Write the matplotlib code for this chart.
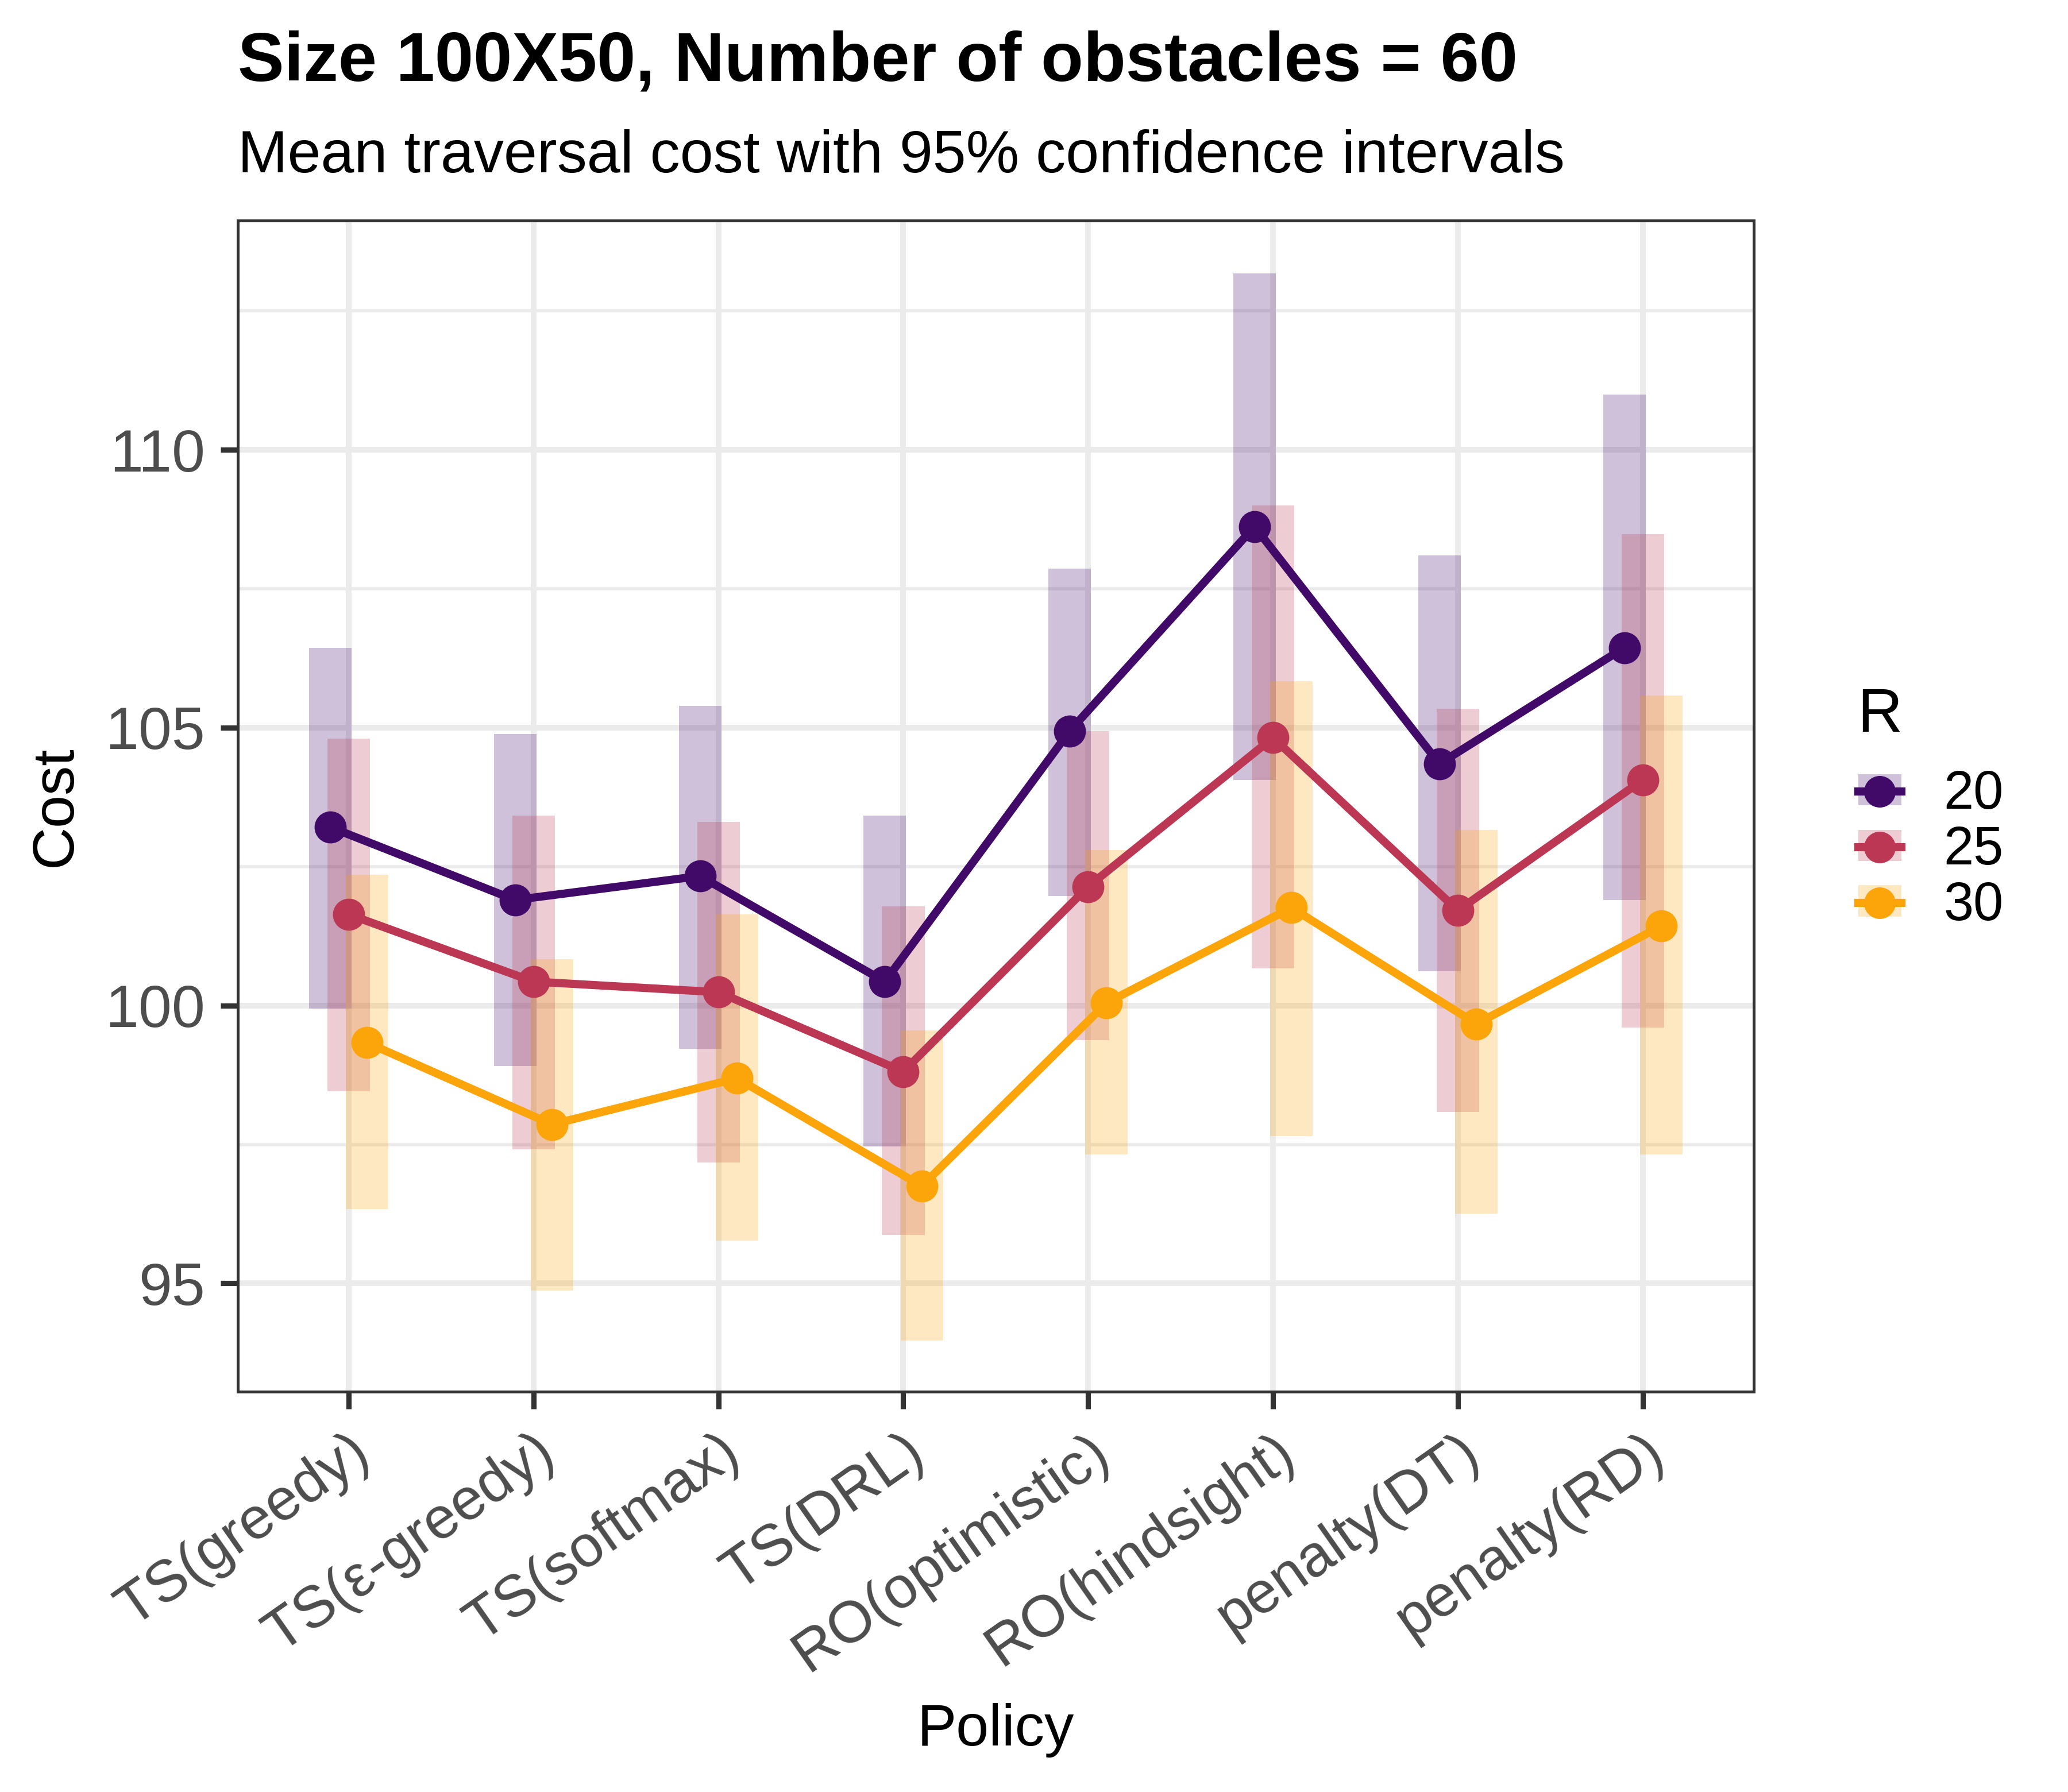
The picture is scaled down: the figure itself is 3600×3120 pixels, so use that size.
"""
Mean traversal cost per policy, one line per R, with 95% CI bars.
Output: out.png
"""

import matplotlib.pyplot as plt
import numpy as np
from matplotlib.legend_handler import HandlerTuple
from matplotlib.lines import Line2D
from matplotlib.patches import Patch

plt.rcParams["font.family"] = ["Liberation Sans", "DejaVu Sans"]

POLICIES = [
    "TS(greedy)", "TS(ε-greedy)", "TS(softmax)", "TS(DRL)",
    "RO(optimistic)", "RO(hindsight)", "penalty(DT)", "penalty(RD)",
]
R_LEVELS = ["20", "25", "30"]
R_COLORS = ["#420A68", "#BB3754", "#FCA50A"]

# mean / lower / upper per R, in policy order
MEAN_20 = [103.21, 101.90, 102.33, 100.43, 104.94, 108.62, 104.35, 106.44]
LOW_20 = [99.95, 98.91, 99.22, 97.46, 101.97, 104.06, 100.62, 101.90]
HIGH_20 = [106.44, 104.89, 105.39, 103.42, 107.86, 113.18, 108.10, 111.00]

MEAN_25 = [101.64, 100.43, 100.24, 98.81, 102.14, 104.82, 101.71, 104.06]
LOW_25 = [98.46, 97.41, 97.17, 95.87, 99.38, 100.67, 98.08, 99.60]
HIGH_25 = [104.80, 103.42, 103.30, 101.78, 104.94, 109.00, 105.34, 108.48]

MEAN_30 = [99.33, 97.86, 98.69, 96.75, 100.05, 101.76, 99.67, 101.43]
LOW_30 = [96.34, 94.87, 95.77, 93.97, 97.32, 97.65, 96.25, 97.32]
HIGH_30 = [102.35, 100.83, 101.64, 99.55, 102.80, 105.84, 103.16, 105.58]

SERIES = [
    (MEAN_20, LOW_20, HIGH_20),
    (MEAN_25, LOW_25, HIGH_25),
    (MEAN_30, LOW_30, HIGH_30),
]

DODGE = 0.1
BAR_WIDTH = 0.23
GRID_COLOR = "#EBEBEB"
DARK = "#333333"
TICK_TEXT = "#4D4D4D"

AX_LEFT, AX_RIGHT = 0.115, 0.848
AX_BOTTOM, AX_TOP = 0.2234, 0.877


def main() -> None:
    fig = plt.figure(figsize=(12, 10.4), dpi=300)
    ax = fig.add_axes([AX_LEFT, AX_BOTTOM, AX_RIGHT - AX_LEFT, AX_TOP - AX_BOTTOM])

    x = np.arange(len(POLICIES))
    offsets = [-DODGE, 0.0, DODGE]

    for (mean, low, high), color, off in zip(SERIES, R_COLORS, offsets):
        low = np.array(low)
        high = np.array(high)
        ax.bar(x + off, high - low, bottom=low, width=BAR_WIDTH,
               color=color, alpha=0.25, linewidth=0, zorder=2)

    for (mean, low, high), color, off in zip(SERIES, R_COLORS, offsets):
        ax.plot(x + off, mean, color=color, linewidth=3.4, zorder=3)
        ax.plot(x + off, mean, "o", color=color, markersize=13.4,
                markeredgewidth=0, zorder=4)

    ax.set_xlim(-0.6, len(POLICIES) - 1 + 0.6)
    ax.set_ylim(93.05, 114.13)
    ax.set_xticks(x)
    ax.set_xticklabels(POLICIES, rotation=35, ha="right", va="top",
                       rotation_mode="anchor", fontsize=24.5, color=TICK_TEXT)
    ax.set_yticks([95, 100, 105, 110])
    ax.set_yticklabels(["95", "100", "105", "110"], fontsize=25, color=TICK_TEXT)
    ax.set_yticks([97.5, 102.5, 107.5, 112.5], minor=True)

    ax.grid(True, which="major", color=GRID_COLOR, linewidth=2.4, zorder=0)
    ax.grid(True, which="minor", axis="y", color=GRID_COLOR, linewidth=1.35, zorder=0)
    ax.set_axisbelow(True)
    ax.tick_params(axis="both", which="major", length=7.2, width=2.2,
                   color=DARK, pad=6.5)
    ax.tick_params(axis="y", which="minor", length=0)
    for spine in ax.spines.values():
        spine.set_color(DARK)
        spine.set_linewidth(1.2)

    ax.set_xlabel("Policy", fontsize=24.6, va="center")
    ax.xaxis.set_label_coords(0.5, -0.289)
    ax.set_ylabel("Cost", fontsize=24.6, va="center")
    ax.yaxis.set_label_coords(-0.120, 0.5)

    fig.text(AX_LEFT, 0.955, "Size 100X50, Number of obstacles = 60",
             fontsize=29, fontweight="bold", ha="left", va="baseline")
    fig.text(AX_LEFT, 0.904, "Mean traversal cost with 95% confidence intervals",
             fontsize=25, ha="left", va="baseline")

    # legend: title drawn apart so the gap above the keys matches
    fig.text(0.898, 0.5917, "R", fontsize=26, ha="left", va="baseline")
    handles = []
    for color in R_COLORS:
        patch = Patch(facecolor=color, alpha=0.25, edgecolor="none")
        line = Line2D([], [], color=color, linewidth=3.4, marker="o",
                      markersize=13.2, markeredgewidth=0)
        handles.append((patch, line))
    fig.legend(handles, R_LEVELS, loc="upper left",
               bbox_to_anchor=(0.8986, 0.5708), frameon=False, fontsize=22.5,
               handler_map={tuple: HandlerTuple(ndivide=1, pad=0)},
               handlelength=0.8, handleheight=0.52, labelspacing=0.085,
               handletextpad=0.78, borderpad=0, borderaxespad=0)

    fig.savefig("out.png", dpi=300)
    plt.close(fig)


if __name__ == "__main__":
    main()
